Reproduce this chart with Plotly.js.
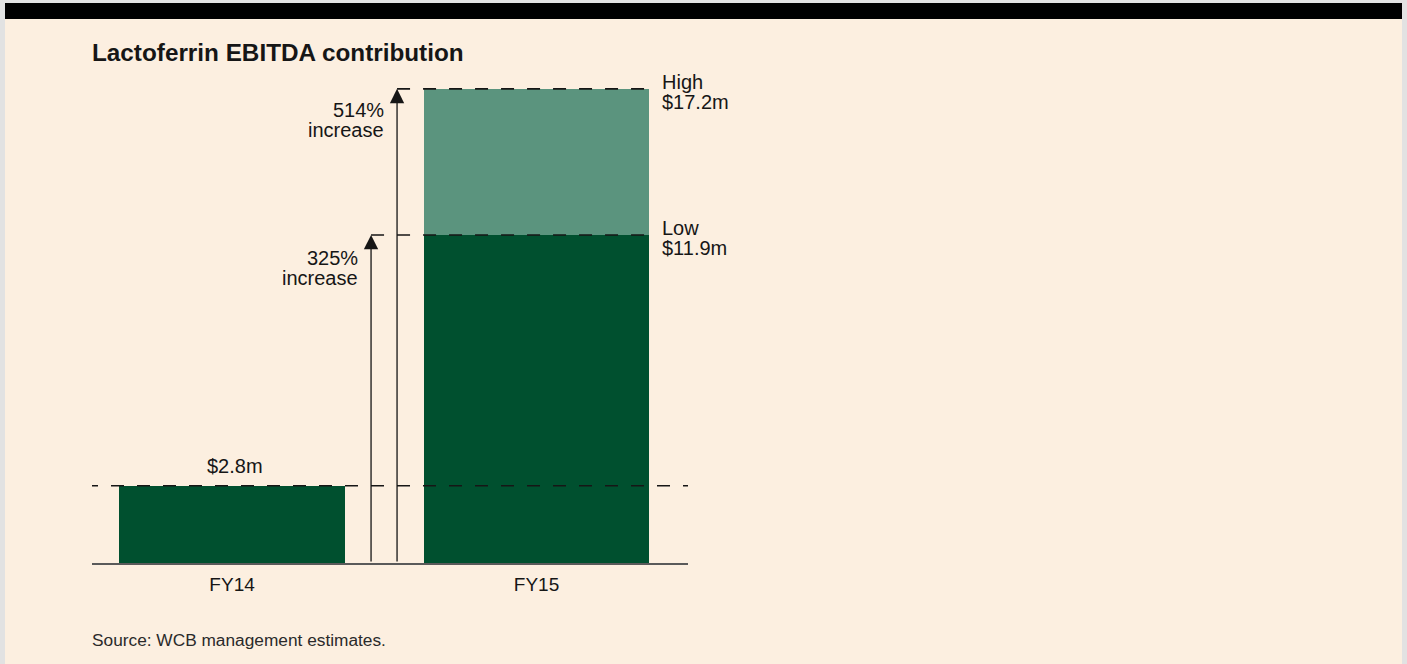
<!DOCTYPE html>
<html>
<head>
<meta charset="utf-8">
<script src="https://cdn.plot.ly/plotly-3.0.1.min.js"></script>
<style>
  html, body { margin: 0; padding: 0; background: #fcefe0; }
  #chart { width: 1407px; height: 664px; }
</style>
</head>
<body>
<div id="chart"></div>
<script>
// ---- data ----
const categories   = ['FY14', 'FY15'];
const lowValues    = [2.8, 11.9];     // $m, base (dark) bars
const highValues   = [2.8, 17.2];     // $m, upper estimate (FY15 only)
const pctIncrease  = [325, 514];      // % increase vs FY14 (low, high)
const valueLabels  = ['$2.8m', '$11.9m', '$17.2m'];
const sideLabels   = ['Low', 'High'];
const titleText    = 'Lactoferrin EBITDA contribution';
const sourceText   = 'Source: WCB management estimates.';

// ---- styling / layout constants ----
const DARK = '#00502f', LIGHT = '#5b947e', BG = '#fcefe0', INK = '#161616';
const FONT = 'Liberation Sans, Arial, Helvetica, sans-serif';
const BAR_W = 0.742;
const arrowX = [0.4565, 0.5419];
const barRight = 1 + BAR_W / 2;

const upper = highValues.map((h, i) => h - lowValues[i]);

const traces = [
  { type: 'bar', x: categories, y: lowValues, width: [BAR_W, BAR_W],
    marker: { color: DARK }, hoverinfo: 'skip' },
  { type: 'bar', x: categories, y: upper, width: [BAR_W, BAR_W],
    marker: { color: LIGHT }, hoverinfo: 'skip' }
];

const dash = { color: INK, width: 1.6, dash: '13px,13px' };
// pixel -> paper helpers for decorative frame (plot area: x 92..688, y 53..563)
const px = p => (p - 92) / 596;
const py = p => (563 - p) / 510;

const shapes = [
  { type: 'line', xref: 'paper', yref: 'y', x0: 0, x1: 1, y0: lowValues[0], y1: lowValues[0], line: { color: INK, width: 1.6, dash: '6px,13px,13px,13px,13px,13px,13px,13px,13px,13px,13px,13px,13px,13px,13px,13px,13px,13px,13px,13px,13px,13px,13px,13px,13px,13px,13px,13px,13px,13px,13px,13px,13px,13px,13px,13px,13px,13px,13px,13px,13px,13px,13px,13px,13px,13px,13px,13px,13px,13px' } },
  { type: 'line', xref: 'x', yref: 'y', x0: arrowX[0], x1: barRight, y0: lowValues[1], y1: lowValues[1], line: dash },
  { type: 'line', xref: 'x', yref: 'y', x0: arrowX[1], x1: barRight, y0: highValues[1], y1: highValues[1], line: dash },
  // frame
  { type: 'rect', xref: 'paper', yref: 'paper', x0: px(0), x1: px(1407), y0: py(0), y1: py(3), fillcolor: '#e2e2e2', line: { width: 0 } },
  { type: 'rect', xref: 'paper', yref: 'paper', x0: px(0), x1: px(5), y0: py(0), y1: py(664), fillcolor: '#e2e2e2', line: { width: 0 } },
  { type: 'rect', xref: 'paper', yref: 'paper', x0: px(1402), x1: px(1407), y0: py(0), y1: py(664), fillcolor: '#e2e2e2', line: { width: 0 } },
  { type: 'rect', xref: 'paper', yref: 'paper', x0: px(5), x1: px(1402), y0: py(3), y1: py(19), fillcolor: '#000000', line: { width: 0 } }
];

const txt = (x, y, text, xanchor, yshift, xshift) => ({
  xref: 'x', yref: 'y', x: x, y: y, text: text, showarrow: false,
  xanchor: xanchor, yanchor: 'middle', yshift: yshift, xshift: xshift || 0,
  borderpad: 0,
  font: { family: FONT, size: 20, color: INK }
});

const arrow = (x, y) => ({
  xref: 'x', yref: 'y', axref: 'x', ayref: 'y', x: x, y: y, ax: x, ay: 0,
  text: '', showarrow: true, arrowhead: 2, arrowsize: 2.2, arrowwidth: 1.3,
  arrowcolor: INK, standoff: 0
});

const annotations = [
  arrow(arrowX[0], lowValues[1]),
  arrow(arrowX[1], highValues[1]),
  // increase labels
  txt(arrowX[1], highValues[1], pctIncrease[1] + '%', 'right', -21.5, -12),
  txt(arrowX[1], highValues[1], 'increase', 'right', -41, -12),
  txt(arrowX[0], lowValues[1], pctIncrease[0] + '%', 'right', -23.5, -12),
  txt(arrowX[0], lowValues[1], 'increase', 'right', -43.5, -12),
  // right-side labels
  txt(barRight, highValues[1], sideLabels[1], 'left', 7, 12),
  txt(barRight, highValues[1], valueLabels[2], 'left', -13, 12),
  txt(barRight, lowValues[1], sideLabels[0], 'left', 7, 12),
  txt(barRight, lowValues[1], valueLabels[1], 'left', -13, 12),
  // FY14 value
  txt(0, lowValues[0], valueLabels[0], 'center', 19.5, 3),
  // source
  { xref: 'paper', yref: 'paper', x: 0, y: py(639.5), text: sourceText, showarrow: false,
    xanchor: 'left', yanchor: 'middle', xshift: -1, borderpad: 0,
    font: { family: FONT, size: 17.3, color: '#2a2a2a' } }
];

const layout = {
  width: 1407, height: 664,
  paper_bgcolor: BG, plot_bgcolor: BG,
  margin: { l: 92, r: 719, t: 53, b: 101, pad: 0 },
  showlegend: false,
  barmode: 'stack',
  title: {
    text: '<b>' + titleText + '</b>',
    x: 92 / 1407, xanchor: 'left', xref: 'container',
    y: 1 - 52 / 664, yanchor: 'middle', yref: 'container',
    font: { family: FONT, size: 24.3, color: INK }
  },
  xaxis: {
    type: 'category', range: [-0.46, 1.4975], fixedrange: true,
    showline: true, linecolor: '#5a5a5a', linewidth: 1.5,
    showgrid: false, zeroline: false, ticks: '',
    ticklabelstandoff: 4,
    tickfont: { family: FONT, size: 19, color: INK }
  },
  yaxis: {
    range: [0, 18.5], fixedrange: true,
    showline: false, showgrid: false, zeroline: false, showticklabels: false, ticks: ''
  },
  shapes: shapes,
  annotations: annotations
};

Plotly.newPlot('chart', traces, layout, { displayModeBar: false, staticPlot: true });
</script>
</body>
</html>
